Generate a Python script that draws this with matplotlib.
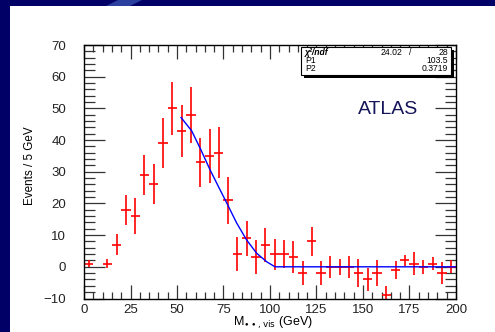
import numpy as np
import matplotlib.pyplot as plt
from matplotlib.patches import Rectangle, Polygon
from matplotlib.ticker import MultipleLocator

plt.rcParams['font.family'] = ['Liberation Sans', 'DejaVu Sans']

# background-subtracted visible mass, 5 GeV bins
bin_centers = np.arange(2.5, 200, 5)
events = [1, np.nan, 1, 7, 18, 16, 29, 26, 39, 50,
          43, 48, 33, 35, 36, 21, 4, 9, 3, 7,
          4, 4, 3, -2, 8, -2, 0, 0, 0, -2,
          -4, -2, -9, -1, 2, 1, 0, 1, -2, 0]
errors = [1.0, 0, 1.5, 3.2, 4.8, 5.8, 6.2, 6.3, 7.9, 8.4,
          8.2, 8.9, 7.7, 8.4, 8.0, 7.4, 5.3, 5.6, 5.4, 5.4,
          4.9, 4.5, 5.0, 3.8, 4.5, 3.8, 3.4, 2.5, 3.4, 4.4,
          3.7, 4.1, 3.0, 2.7, 1.8, 3.7, 2.3, 2.1, 3.4, 2.0]

# fitted curve, sampled along the drawn line
fit_x = [52.2, 57.9, 62.7, 67.7, 72.2, 76.7, 82.1, 87.4, 92.8, 98.2, 102.7, 200]
fit_y = [47.1, 42.9, 37.1, 30.7, 25.4, 20.2, 13.8, 8.5, 4.3, 1.6, 0.0, 0.0]

stat_names = ["\u03c7\u00b2/ndf", "P1", "P2"]
stat_values = ["24.02", "103.5", "0.3719"]

W, H = 495, 332
fig = plt.figure(figsize=(W / 100, H / 100), dpi=100)
navy = "#000066"

# slide background strips
fig.add_artist(Rectangle((0, 1 - 6 / H), 1, 6 / H, transform=fig.transFigure,
                         color=navy, lw=0))
fig.add_artist(Polygon([(118 / W, 1), (142 / W, 1), (130 / W, 1 - 6 / H), (106 / W, 1 - 6 / H)],
                       closed=True, transform=fig.transFigure, color="#2a3f9e", lw=0))
fig.add_artist(Rectangle((0, 0), 10 / W, 1, transform=fig.transFigure,
                         color=navy, lw=0))

ax = fig.add_axes([84 / W, 1 - 298.5 / H, (456 - 84) / W, (298.5 - 45) / H])

ax.errorbar(bin_centers, events, yerr=errors, xerr=2.5, fmt='none',
            ecolor='red', elinewidth=1.2, capsize=0)
ax.plot(fit_x, fit_y, color='blue', lw=1.0)

ax.set_xlim(0, 200)
ax.set_ylim(-10, 70)
ax.xaxis.set_major_locator(MultipleLocator(25))
ax.xaxis.set_minor_locator(MultipleLocator(5))
ax.yaxis.set_major_locator(MultipleLocator(10))
ax.yaxis.set_minor_locator(MultipleLocator(2))
ax.tick_params(which='both', direction='in', top=True, right=True,
               color='#333333', width=0.9, labelcolor='#222222')
ax.tick_params(axis='x', which='major', length=10, pad=4, labelsize=9.5)
ax.tick_params(axis='x', which='minor', length=5)
ax.tick_params(axis='y', which='major', length=15, pad=13, labelsize=9.5)
ax.tick_params(axis='y', which='minor', length=8)
for s in ax.spines.values():
    s.set_linewidth(1.0)

fig.text(273 / W, 1 - 323 / H, "M$_{\\bullet\\bullet,\\mathrm{vis}}$ (GeV)",
         ha='center', va='center', fontsize=9)
fig.text(30 / W, 1 - 166 / H, "Events / 5 GeV", rotation=90,
         ha='center', va='center', fontsize=8.4)

# fit statistics box with shadow
bx0, bx1, by0, by1 = 301, 451, 47, 75
fig.add_artist(Rectangle(((bx0 + 3) / W, 1 - (by1 + 3) / H), (bx1 - bx0) / W,
                         (by1 - by0) / H, transform=fig.transFigure,
                         color='black', lw=0, zorder=5))
fig.add_artist(Rectangle((bx0 / W, 1 - by1 / H), (bx1 - bx0) / W, (by1 - by0) / H,
                         transform=fig.transFigure, facecolor='white',
                         edgecolor='black', lw=0.8, zorder=6))
rows = [52.5, 60.5, 68.5]
fs = 6.2
fig.text(305 / W, 1 - rows[0] / H, stat_names[0], ha='left', va='center',
         fontsize=fs, fontweight='bold', style='italic', zorder=7)
for name, yy in zip(stat_names[1:], rows[1:]):
    fig.text(305 / W, 1 - yy / H, name, ha='left', va='center',
             fontsize=fs, zorder=7)
fig.text(402 / W, 1 - rows[0] / H, stat_values[0], ha='right', va='center',
         fontsize=fs, zorder=7)
fig.text(410 / W, 1 - rows[0] / H, "/", ha='center', va='center',
         fontsize=fs, zorder=7)
fig.text(448 / W, 1 - rows[0] / H, "28", ha='right', va='center',
         fontsize=fs, zorder=7)
for val, yy in zip(stat_values[1:], rows[1:]):
    fig.text(448 / W, 1 - yy / H, val, ha='right', va='center',
             fontsize=fs, zorder=7)

fig.text(358 / W, 1 - 109 / H, "ATLAS", ha='left', va='center',
         fontsize=14, color='#14145a')

fig.savefig("out.png", dpi=100)
